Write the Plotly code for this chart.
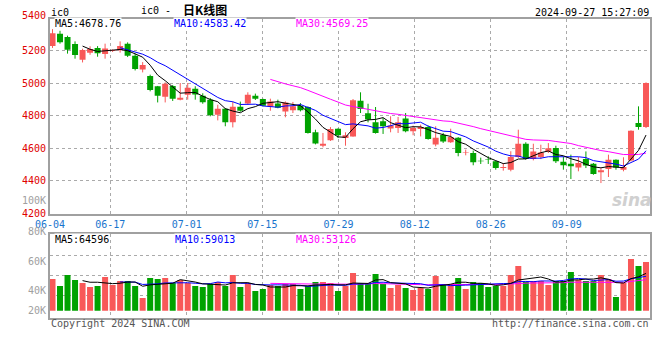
import plotly.graph_objects as go
import pandas as pd

# ---------------- data ----------------
opens = [5226, 5302, 5282, 5239, 5143, 5186, 5214, 5178, 5196, 5200,
         5241, 5167, 5082, 5043, 4980, 4916, 4982, 4898, 4928, 4965,
         4922, 4898, 4806, 4843, 4759, 4855, 4875, 4922, 4902, 4855,
         4875, 4826, 4833, 4861, 4853, 4698, 4616, 4649, 4720, 4663,
         4673, 4892, 4814, 4759, 4765, 4722, 4724, 4782, 4704, 4718,
         4731, 4624, 4682, 4637, 4665, 4574, 4571, 4524, 4535, 4520,
         4480, 4469, 4547, 4628, 4534, 4547, 4579, 4602, 4518, 4506,
         4483, 4534, 4506, 4453, 4473, 4530, 4469, 4526, 4755, 4731]
highs = [5330, 5320, 5290, 5255, 5210, 5225, 5226, 5241, 5206, 5255,
         5249, 5180, 5128, 5051, 4982, 5004, 4988, 5000, 5000, 4980,
         4937, 4908, 4867, 4847, 4886, 4886, 4943, 4935, 4904, 4904,
         4898, 4887, 4884, 4877, 4857, 4714, 4694, 4730, 4722, 4698,
         4902, 4943, 4873, 4853, 4786, 4796, 4792, 4816, 4739, 4745,
         4739, 4735, 4694, 4720, 4669, 4592, 4586, 4543, 4551, 4524,
         4510, 4582, 4714, 4637, 4628, 4622, 4632, 4616, 4547, 4561,
         4547, 4581, 4510, 4479, 4561, 4532, 4545, 4710, 4857, 5004]
lows = [5215, 5241, 5180, 5149, 5126, 5173, 5161, 5149, 5190, 5186,
        5159, 5077, 5065, 4949, 4881, 4881, 4890, 4894, 4898, 4898,
        4873, 4796, 4771, 4735, 4728, 4824, 4867, 4896, 4857, 4830,
        4845, 4790, 4816, 4826, 4690, 4624, 4606, 4645, 4663, 4616,
        4671, 4816, 4759, 4690, 4688, 4698, 4694, 4698, 4680, 4673,
        4653, 4612, 4633, 4633, 4551, 4557, 4496, 4504, 4504, 4469,
        4463, 4459, 4541, 4530, 4526, 4534, 4571, 4510, 4469, 4412,
        4459, 4479, 4438, 4387, 4424, 4469, 4459, 4520, 4714, 4724]
closes = [5305, 5249, 5204, 5171, 5202, 5208, 5182, 5212, 5202, 5226,
          5167, 5086, 5110, 4957, 4922, 4996, 4904, 4910, 4971, 4929,
          4882, 4802, 4843, 4759, 4855, 4830, 4928, 4904, 4861, 4886,
          4849, 4881, 4857, 4833, 4694, 4630, 4628, 4718, 4680, 4680,
          4894, 4841, 4776, 4694, 4735, 4739, 4759, 4704, 4724, 4731,
          4657, 4665, 4641, 4669, 4571, 4578, 4514, 4520, 4531, 4480,
          4486, 4547, 4628, 4535, 4581, 4575, 4600, 4520, 4496, 4490,
          4510, 4494, 4443, 4465, 4530, 4483, 4485, 4708, 4730, 5000]
volumes = [55800, 43400, 62800, 54000, 48700, 41700, 43400, 59300, 45200, 52200,
           52200, 43400, 22300, 57500, 55800, 57500, 48700, 54000, 48700, 43400,
           41700, 47000, 50500, 43400, 62800, 41700, 48700, 34600, 38200, 45200,
           43400, 47000, 47000, 38200, 43400, 50500, 50500, 48700, 34600, 43400,
           66300, 48700, 47000, 64600, 47000, 39900, 45200, 39900, 36400, 39900,
           38200, 61000, 47000, 47000, 57500, 38200, 50500, 48700, 41700, 43400,
           43400, 62800, 78700, 50500, 52200, 52200, 45200, 52200, 52200, 68100,
           54000, 52200, 52200, 62800, 55800, 24100, 48700, 91000, 78700, 85700]
tick_labels = ["06-04", "06-17", "07-01", "07-15", "07-29", "08-12", "08-26", "09-09"]
tick_pos = [-0.33, 7.69, 17.86, 27.93, 38.07, 48.21, 58.33, 68.44]
price_ticks = [4200, 4400, 4600, 4800, 5000, 5200]
vol_grid = [26400, 61600, 97500]
vol_labels = ["80K", "60K", "40K", "20K"]

# ---------------- styling ----------------
RED = "#f85858"
GREEN = "#00a200"
MONO = "DejaVu Sans Mono, Liberation Mono, monospace"
GRID = "#aaaaaa"
FRAME = "#a0a0a0"
W, H = 660, 360

n = len(closes)
idx = list(range(n))
up = [c >= o for o, c in zip(opens, closes)]

fig = go.Figure()

# candles: wicks then bodies
for flag, color in ((True, RED), (False, GREEN)):
    xs = [i for i in idx if up[i] == flag]
    wx, wy = [], []
    for i in xs:
        wx += [i, i, None]
        wy += [lows[i], highs[i], None]
    fig.add_trace(go.Scatter(x=wx, y=wy, mode="lines", line=dict(color=color, width=1),
                             xaxis="x", yaxis="y", hoverinfo="skip"))
    fig.add_trace(go.Bar(x=xs, y=[max(abs(closes[i] - opens[i]), 3) for i in xs],
                         base=[min(opens[i], closes[i]) for i in xs], width=0.8,
                         marker=dict(color=color, line_width=0), xaxis="x", yaxis="y"))

cs = pd.Series(closes)
for win, color in ((30, "#ff00ff"), (10, "#0000ff"), (5, "#000000")):
    fig.add_trace(go.Scatter(x=idx, y=cs.rolling(win).mean(), mode="lines",
                             line=dict(color=color, width=1), xaxis="x", yaxis="y"))

# volume
fig.add_trace(go.Bar(x=idx, y=volumes, width=0.8,
                     marker=dict(color=[RED if u else GREEN for u in up], line_width=0),
                     xaxis="x2", yaxis="y2"))
vs = pd.Series(volumes)
for win, color in ((30, "#ff00ff"), (10, "#0000ff"), (5, "#000000")):
    fig.add_trace(go.Scatter(x=idx, y=vs.rolling(win).mean(), mode="lines",
                             line=dict(color=color, width=1), xaxis="x2", yaxis="y2"))

xdom = [50 / W, 650 / W]
xr = [-0.333, 79.53]
common_x = dict(domain=xdom, range=xr, tickvals=tick_pos, showgrid=True, gridcolor=GRID,
                griddash="dot", gridwidth=1, showline=True, mirror=True, linecolor=FRAME,
                linewidth=2, ticks="", zeroline=False, fixedrange=True, automargin=False)

fig.update_layout(
    template="none",
    width=W, height=H, margin=dict(l=0, r=0, t=0, b=0, pad=0),
    paper_bgcolor="white", plot_bgcolor="white", showlegend=False,
    barmode="overlay", hovermode=False,
    xaxis=dict(**common_x, anchor="y", ticktext=tick_labels,
               tickfont=dict(family=MONO, size=10, color="#1874cd")),
    yaxis=dict(domain=[(H - 213.6) / H, (H - 19) / H], range=[4200, 5392.1],
               tickvals=price_ticks, ticktext=[str(v) for v in price_ticks],
               tickfont=dict(family=MONO, size=10, color="#e00000"),
               showgrid=True, gridcolor=GRID, griddash="dot", showline=True, mirror=True,
               linecolor=FRAME, linewidth=2, ticks="", zeroline=False, anchor="x",
               automargin=False),
    xaxis2=dict(**common_x, anchor="y2", showticklabels=False),
    yaxis2=dict(domain=[(H - 317.7) / H, (H - 234.3) / H], range=[-12300, 134500],
                tickvals=vol_grid, showticklabels=False, showgrid=True, gridcolor=GRID,
                griddash="dot", showline=True, mirror=True, linecolor=FRAME, linewidth=2,
                ticks="", zeroline=False, anchor="x2", automargin=False),
)

def px(x):
    return x / W

def py(y):
    return (H - y) / H

ann = []
def add(text, x, y, color="#000000", anchor="left", size=10, family=MONO, bg=None, bold=False):
    if bold:
        text = "<b>" + text + "</b>"
    ann.append(dict(text=text, x=px(x), y=py(y), xref="paper", yref="paper",
                    xanchor=anchor, yanchor="middle", showarrow=False,
                    font=dict(family=family, size=size, color=color),
                    bgcolor=bg, borderpad=0))

add("ic0", 50.5, 12.5)
add("ic0 -", 140, 10)
add("日K线图", 182, 9.5, size=12, family="Noto Sans CJK SC", bold=True)
add("2024-09-27 15:27:09", 649.5, 12.5, anchor="right")
add("5400", 46.5, 15.5, color="#e00000", anchor="right")
add("100K", 46.5, 200, color="#a0a0a0", anchor="right")
add("MA5:4678.76", 54, 24, bg="white")
add("MA10:4583.42", 173, 24, color="#0000ff", bg="white")
add("MA30:4569.25", 295, 24, color="#ff00ff", bg="white")
add("MA5:64596", 54, 239, bg="white")
add("MA10:59013", 174, 239, color="#0000ff", bg="white")
add("MA30:53126", 294.5, 239, color="#ff00ff", bg="white")
for lab, yy in zip(vol_labels, [231.5, 261, 290, 310]):
    add(lab, 46.5, yy, color="#a0a0a0", anchor="right")
add("Copyright 2024 SINA.COM", 49.5, 323.7, color="#555555")
add("http://finance.sina.com.cn", 649.5, 323.7, color="#555555", anchor="right")
add("<i><b>sina</b></i>", 632, 200, color="#d0d0d0", anchor="center", size=17,
    family="DejaVu Sans")
fig.update_layout(annotations=ann)

fig.write_html("out.html", config={"displayModeBar": False, "staticPlot": True},
               post_script="document.body.style.margin='0px';document.body.style.padding='0px';")
